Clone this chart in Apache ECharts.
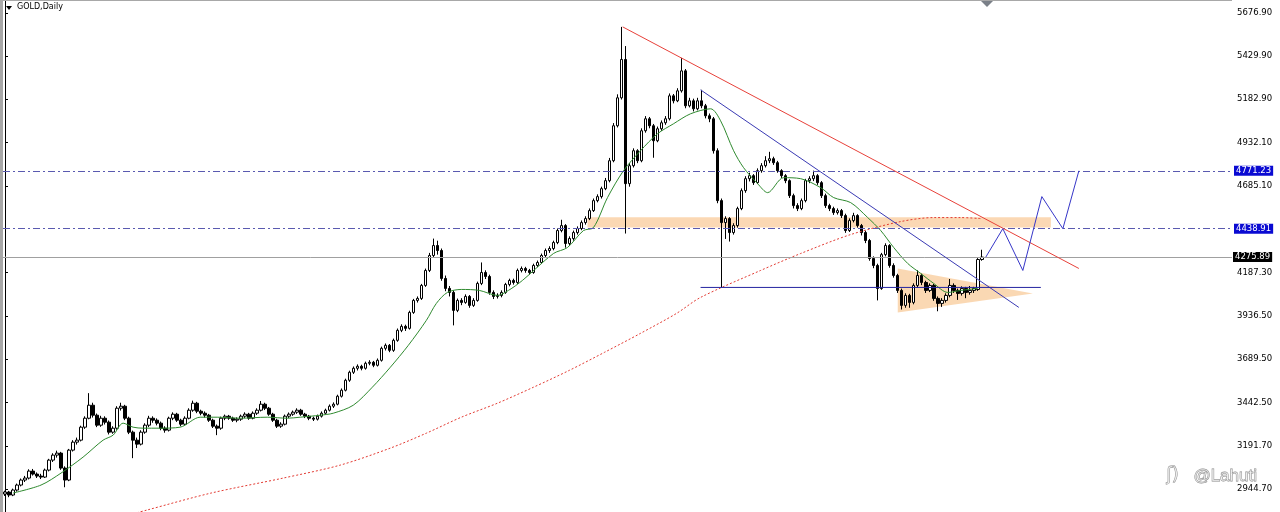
<!DOCTYPE html>
<html><head><meta charset="utf-8">
<script src="https://cdn.jsdelivr.net/npm/echarts@6/dist/echarts.min.js"></script>
<style>html,body{margin:0;padding:0;background:#fff;overflow:hidden}#c{width:1280px;height:512px}</style>
</head><body><div id="c"></div>
<script>
// ---- DATA (GOLD, Daily) ----
// candles: [open, close, low, high]
const candles = [
[2916.0,2927.4,2905.0,2935.0],[2927.4,2910.2,2898.0,2934.0],[2910.2,2938.9,2904.0,2947.0],[2938.9,2967.5,2930.0,2976.0],
[2967.5,2996.2,2960.0,3005.0],[2996.2,3007.6,2985.0,3020.0],[3007.6,3047.7,3000.0,3058.0],[3047.7,3030.5,3022.0,3060.0],
[3030.5,3019.1,3008.0,3040.0],[3019.1,3013.3,3002.0,3032.0],[3013.3,3053.4,3008.0,3062.0],[3053.4,3110.7,3046.0,3118.0],
[3110.7,3139.4,3100.0,3150.0],[3139.4,3150.8,3125.0,3165.0],[3150.8,3064.9,3055.0,3158.0],[3064.9,2996.2,2955.0,3075.0],
[2996.2,3168.0,2990.0,3175.0],[3168.0,3213.8,3160.0,3225.0],[3213.8,3225.3,3200.0,3240.0],[3225.3,3299.7,3218.0,3308.0],
[3299.7,3351.2,3290.0,3362.0],[3351.2,3425.8,3345.0,3495.0],[3425.8,3368.5,3355.0,3440.0],[3368.5,3311.2,3300.0,3378.0],
[3311.2,3351.2,3302.0,3365.0],[3351.2,3328.4,3315.0,3362.0],[3328.4,3271.1,3258.0,3338.0],[3271.1,3293.9,3262.0,3305.0],
[3293.9,3408.6,3285.0,3420.0],[3408.6,3420.0,3395.0,3440.0],[3420.0,3351.2,3340.0,3428.0],[3351.2,3271.1,3260.0,3360.0],
[3271.1,3225.3,3122.0,3280.0],[3225.3,3202.4,3180.0,3240.0],[3202.4,3271.1,3195.0,3282.0],[3271.1,3311.2,3262.0,3322.0],
[3311.2,3351.2,3300.0,3365.0],[3351.2,3339.8,3325.0,3362.0],[3339.8,3322.7,3310.0,3350.0],[3322.7,3293.9,3282.0,3332.0],
[3293.9,3282.6,3268.0,3305.0],[3282.6,3351.2,3275.0,3360.0],[3351.2,3374.2,3340.0,3385.0],[3374.2,3339.8,3330.0,3382.0],
[3339.8,3316.9,3305.0,3348.0],[3316.9,3351.2,3310.0,3362.0],[3351.2,3397.1,3345.0,3408.0],[3397.1,3437.2,3388.0,3452.0],
[3437.2,3391.4,3380.0,3445.0],[3391.4,3379.9,3368.0,3400.0],[3379.9,3368.5,3355.0,3390.0],[3368.5,3339.8,3330.0,3376.0],
[3339.8,3305.5,3295.0,3348.0],[3305.5,3293.9,3254.0,3315.0],[3293.9,3351.2,3285.0,3360.0],[3351.2,3362.7,3340.0,3372.0],
[3362.7,3351.2,3342.0,3370.0],[3351.2,3339.8,3330.0,3360.0],[3339.8,3345.6,3328.0,3356.0],[3345.6,3362.7,3336.0,3372.0],
[3362.7,3374.2,3352.0,3385.0],[3374.2,3351.2,3342.0,3382.0],[3351.2,3379.9,3345.0,3390.0],[3379.9,3397.1,3370.0,3408.0],
[3397.1,3431.5,3390.0,3450.0],[3431.5,3408.6,3398.0,3440.0],[3408.6,3374.2,3365.0,3416.0],[3374.2,3339.8,3330.0,3382.0],
[3339.8,3305.5,3295.0,3348.0],[3305.5,3316.9,3296.0,3328.0],[3316.9,3362.7,3310.0,3372.0],[3362.7,3374.2,3352.0,3384.0],
[3374.2,3385.7,3365.0,3395.0],[3385.7,3397.1,3376.0,3408.0],[3397.1,3374.2,3365.0,3405.0],[3374.2,3362.7,3352.0,3382.0],
[3362.7,3351.2,3340.0,3370.0],[3351.2,3345.6,3335.0,3360.0],[3345.6,3362.7,3338.0,3372.0],[3362.7,3379.9,3355.0,3390.0],
[3379.9,3397.1,3372.0,3406.0],[3397.1,3420.0,3390.0,3430.0],[3420.0,3431.5,3410.0,3442.0],[3431.5,3477.3,3425.0,3486.0],
[3477.3,3511.7,3470.0,3522.0],[3511.7,3569.0,3505.0,3578.0],[3569.0,3614.8,3560.0,3624.0],[3614.8,3637.7,3605.0,3648.0],
[3637.7,3649.2,3625.0,3660.0],[3649.2,3637.7,3626.0,3658.0],[3637.7,3666.3,3630.0,3676.0],[3666.3,3672.1,3655.0,3684.0],
[3672.1,3654.9,3644.0,3680.0],[3654.9,3683.5,3648.0,3694.0],[3683.5,3752.3,3676.0,3762.0],[3752.3,3769.4,3740.0,3780.0],
[3769.4,3740.8,3730.0,3777.0],[3740.8,3798.1,3732.0,3808.0],[3798.1,3855.4,3790.0,3866.0],[3855.4,3878.3,3845.0,3890.0],
[3878.3,3866.8,3852.0,3888.0],[3866.8,3958.3,3860.0,3968.0],[3958.3,4027.2,3950.0,4036.0],[4027.2,4038.7,4015.0,4050.0],
[4038.7,4113.1,4030.0,4122.0],[4113.1,4199.2,4105.0,4210.0],[4199.2,4285.0,4190.0,4300.0],[4285.0,4342.2,4275.0,4382.0],
[4342.2,4313.6,4290.0,4370.0],[4313.6,4153.2,4140.0,4325.0],[4153.2,4096.0,4080.0,4170.0],[4096.0,4073.0,4050.0,4110.0],
[4073.0,3970.0,3884.0,4085.0],[3970.0,4027.2,3960.0,4038.0],[4027.2,4015.7,4000.0,4040.0],[4015.7,4050.1,4008.0,4062.0],
[4050.1,3998.6,3985.0,4058.0],[3998.6,4027.2,3990.0,4040.0],[4027.2,4124.6,4020.0,4135.0],[4124.6,4187.6,4115.0,4245.0],
[4187.6,4164.7,4150.0,4200.0],[4164.7,4073.0,4060.0,4175.0],[4073.0,4050.1,4035.0,4085.0],[4050.1,4055.8,4038.0,4068.0],
[4055.8,4073.0,4045.0,4085.0],[4073.0,4118.8,4065.0,4128.0],[4118.8,4141.8,4108.0,4152.0],[4141.8,4130.3,4118.0,4152.0],
[4130.3,4199.2,4122.0,4210.0],[4199.2,4210.5,4188.0,4222.0],[4210.5,4199.2,4186.0,4220.0],[4199.2,4187.6,4175.0,4208.0],
[4187.6,4227.7,4180.0,4238.0],[4227.7,4244.9,4218.0,4256.0],[4244.9,4285.0,4236.0,4296.0],[4285.0,4313.6,4275.0,4325.0],
[4313.6,4325.1,4300.0,4338.0],[4325.1,4359.4,4315.0,4370.0],[4359.4,4428.2,4350.0,4440.0],[4428.2,4456.8,4418.0,4490.0],
[4456.8,4353.7,4330.0,4465.0],[4353.7,4382.3,4340.0,4395.0],[4382.3,4416.7,4370.0,4428.0],[4416.7,4439.6,4405.0,4452.0],
[4439.6,4474.0,4430.0,4486.0],[4474.0,4496.9,4462.0,4510.0],[4496.9,4542.7,4488.0,4555.0],[4542.7,4600.0,4535.0,4612.0],
[4600.0,4622.9,4590.0,4636.0],[4622.9,4668.7,4612.0,4680.0],[4668.7,4714.6,4660.0,4730.0],[4714.6,4829.1,4705.0,4845.0],
[4829.1,5029.6,4820.0,5045.0],[5029.6,5190.0,5020.0,5210.0],[5190.0,5410.0,5180.0,5597.0],[5410.0,4697.4,4411.0,5487.0],
[4697.4,4800.5,4680.0,4815.0],[4800.5,4886.4,4790.0,4900.0],[4886.4,4829.1,4815.0,4895.0],[4829.1,5001.0,4820.0,5015.0],
[5001.0,5069.7,4990.0,5085.0],[5069.7,5029.6,5015.0,5080.0],[5029.6,4943.7,4846.0,5040.0],[4943.7,5012.4,4935.0,5025.0],
[5012.4,5046.8,5000.0,5060.0],[5046.8,5069.7,5035.0,5085.0],[5069.7,5201.4,5060.0,5215.0],[5201.4,5172.8,5158.0,5212.0],
[5172.8,5230.1,5165.0,5245.0],[5230.1,5344.6,5220.0,5419.0],[5344.6,5144.2,5130.0,5355.0],[5144.2,5172.8,5135.0,5190.0],
[5172.8,5127.0,5112.0,5185.0],[5127.0,5172.8,5118.0,5190.0],[5172.8,5144.2,5130.0,5236.0],[5144.2,5086.9,5072.0,5155.0],
[5086.9,5069.7,5050.0,5100.0],[5069.7,4886.4,4870.0,5080.0],[4886.4,4600.0,4585.0,4900.0],[4600.0,4474.0,4101.7,4612.0],
[4474.0,4496.9,4380.0,4510.0],[4496.9,4416.7,4365.0,4505.0],[4416.7,4456.8,4405.0,4470.0],[4456.8,4554.2,4445.0,4565.0],
[4554.2,4657.3,4545.0,4670.0],[4657.3,4726.0,4645.0,4740.0],[4726.0,4743.2,4710.0,4760.0],[4743.2,4703.1,4690.0,4752.0],
[4703.1,4771.8,4695.0,4785.0],[4771.8,4800.5,4760.0,4815.0],[4800.5,4829.1,4790.0,4855.0],[4829.1,4840.6,4815.0,4880.0],
[4840.6,4817.7,4805.0,4852.0],[4817.7,4771.8,4760.0,4828.0],[4771.8,4743.2,4730.0,4780.0],[4743.2,4714.6,4700.0,4752.0],
[4714.6,4628.6,4615.0,4722.0],[4628.6,4571.4,4555.0,4640.0],[4571.4,4554.2,4540.0,4585.0],[4554.2,4600.0,4545.0,4612.0],
[4600.0,4714.6,4590.0,4725.0],[4714.6,4726.0,4700.0,4740.0],[4726.0,4743.2,4712.0,4772.0],[4743.2,4703.1,4690.0,4752.0],
[4703.1,4628.6,4615.0,4712.0],[4628.6,4571.4,4558.0,4640.0],[4571.4,4554.2,4540.0,4582.0],[4554.2,4531.3,4518.0,4565.0],
[4531.3,4542.7,4520.0,4555.0],[4542.7,4514.1,4500.0,4552.0],[4514.1,4428.2,4415.0,4525.0],[4428.2,4485.4,4420.0,4498.0],
[4485.4,4514.1,4475.0,4530.0],[4514.1,4456.8,4445.0,4522.0],[4456.8,4416.7,4400.0,4466.0],[4416.7,4371.0,4356.0,4428.0],
[4371.0,4267.8,4255.0,4380.0],[4267.8,4227.7,4212.0,4280.0],[4227.7,4096.0,4027.2,4238.0],[4096.0,4290.0,4088.0,4300.0],
[4290.0,4342.2,4280.0,4355.0],[4342.2,4227.7,4215.0,4350.0],[4227.7,4170.4,4158.0,4240.0],[4170.4,4084.5,4070.0,4180.0],
[4084.5,3998.6,3975.0,4095.0],[3998.6,4055.8,3985.0,4068.0],[4055.8,4015.7,3985.0,4065.0],[4015.7,4113.1,4005.0,4125.0],
[4113.1,4170.4,4100.0,4200.0],[4170.4,4130.3,4115.0,4180.0],[4130.3,4084.5,4070.0,4140.0],[4084.5,4113.1,4075.0,4125.0],
[4113.1,4038.7,4025.0,4122.0],[4038.7,4010.0,3965.0,4050.0],[4010.0,4027.2,3990.0,4040.0],[4027.2,4055.8,4015.0,4068.0],
[4055.8,4113.1,4045.0,4150.0],[4113.1,4084.5,4070.0,4125.0],[4084.5,4067.3,4030.0,4095.0],[4067.3,4096.0,4055.0,4108.0],
[4096.0,4073.0,4040.0,4105.0],[4073.0,4084.5,4060.0,4110.0],[4084.5,4096.0,4070.0,4105.0],[4090.0,4262.0,4082.0,4270.0],
[4262.0,4275.89,4255.0,4318.0]
];
// green moving average: [bar index, price]
const maFast = [
[2,2921.7],[9,2967.5],[14,3036.3],[19.5,3127.9],[24.5,3225.3],[27,3254.0],[29.5,3322.7],[32,3299.7],[34.5,3294.0],
[38.75,3294.0],[43.75,3299.7],[48.75,3357.0],[53,3357.0],[58.75,3351.2],[65.5,3357.0],[70.5,3351.2],[73.75,3357.0],
[78.75,3368.5],[82,3379.9],[87,3425.8],[91.75,3528.9],[96.25,3643.5],[100.75,3769.4],[105.25,3912.6],[107.75,4010.0],
[110.5,4073.0],[114,4090.2],[118.5,4084.5],[123,4055.8],[125.75,4084.5],[129.25,4141.8],
[137,4296.4],[140.5,4330.8],[144.5,4428.2],[147,4445.3],[150.5,4617.2],[154.5,4771.8],
[158.75,4886.4],[163,4983.8],[167,5041.1],[171.25,5098.3],[176.25,5127.0],[178.75,5058.3],[182,4886.4],[184.5,4789.0],
[188,4697.4],[190.5,4645.8],[194.5,4731.7],[198.75,4726.0],[203.75,4674.5],[207,4617.2],[211.25,4588.5],[215.5,4502.6],
[218.75,4428.2],[222,4330.8],[225.5,4239.1],[228.75,4181.9],[232,4124.6],[235.5,4073.0],[238.75,4084.5],[243,4096.0]
];
// red dotted long moving average: [bar index, price]
const maSlow = [
[30,2790.0],[35.5,2824.3],[51.5,2921.7],[69.5,3007.6],[83.75,3082.1],[96.25,3179.5],[105.25,3265.2],[114,3357.0],
[123,3437.2],[132,3528.9],[141,3626.2],[149.75,3729.3],[158.75,3838.2],[167.75,3952.7],[173.75,4044.4],[188.75,4199.2],
[198.75,4296.4],[211.25,4405.2],[223.75,4479.7],[232,4502.6],[238.75,4502.6],[243.75,4496.9]
];
const redTrend = [[154.3,5597.0],[268.25,4210.5]];
const blueTrend = [[173.75,5235.8],[253.25,3987.1]];
const blueFlat = [[173.75,4101.7],[258.75,4101.7]];
const projection = [[245,4276.0],[249.25,4438.9],[254.25,4199.0],[259,4623.0],[264.25,4438.9],[268.25,4771.2]];
const zoneRect = [[145.5,4505.0],[261.25,4445.0]];
const triangle = [[223,4210.0],[223,3958.0],[256.75,4067.0]];
const levels = [4771.23, 4438.91];
const bidPrice = 4275.89;
const yTicks = [2944.70, 3191.70, 3442.50, 3689.50, 3936.50, 4187.30, 4685.10, 4932.10, 5182.90, 5429.90, 5676.90];
const slotCount = 307;
const categories = Array.from({length: slotCount}, (_, i) => String(i));

// ---- CHART ----
const chart = echarts.init(document.getElementById('c'), null, {renderer: 'canvas'});
const FONT = 'DejaVu Sans';
const option = {
  animation: false,
  backgroundColor: '#ffffff',
  grid: {left: 3, right: 48, top: 1, bottom: 0, containLabel: false},
  xAxis: [
    {type: 'category', data: categories, boundaryGap: true, show: false},
    {type: 'value', min: -0.5, max: slotCount - 0.5, show: false}
  ],
  yAxis: {
    type: 'value', position: 'right', min: 2812.9, max: 5745.6, scale: true,
    axisLine: {show: true, lineStyle: {color: '#000', width: 1}},
    axisTick: {show: true, length: 3, customValues: yTicks, lineStyle: {color: '#000'}},
    axisLabel: {show: true, customValues: yTicks, margin: 5, color: '#000', fontFamily: FONT, fontSize: 8.5,
      formatter: v => Number(v).toFixed(2)},
    splitLine: {show: false}
  },
  series: [
    {type: 'custom', xAxisIndex: 1, silent: true, z: 1, data: [[0, 0]],
      renderItem: (params, api) => {
        const a = api.coord(zoneRect[0]), b = api.coord(zoneRect[1]);
        return {type: 'rect', shape: {x: a[0], y: a[1], width: b[0] - a[0], height: b[1] - a[1]},
          style: {fill: '#fbd8b4'}};
      }},
    {type: 'custom', xAxisIndex: 1, silent: true, z: 1, data: [[0, 0]],
      renderItem: (params, api) => ({type: 'polygon', shape: {points: triangle.map(p => api.coord(p))},
        style: {fill: 'rgba(249,206,160,0.8)'}})},
    {type: 'candlestick', xAxisIndex: 0, data: candles, barWidth: 3, z: 3, silent: true,
      itemStyle: {color: '#ffffff', color0: '#000000', borderColor: '#000000', borderColor0: '#000000', borderWidth: 1}},
    {type: 'line', xAxisIndex: 1, data: maSlow, smooth: 0.3, symbol: 'none', z: 4, silent: true,
      lineStyle: {color: '#e23a32', width: 1, type: [2, 2]}},
    {type: 'line', xAxisIndex: 1, data: maFast, smooth: 0.3, symbol: 'none', z: 4, silent: true,
      lineStyle: {color: '#2f8a2f', width: 1}},
    {type: 'line', xAxisIndex: 1, data: redTrend, symbol: 'none', z: 5, silent: true,
      lineStyle: {color: '#e8413a', width: 1}},
    {type: 'line', xAxisIndex: 1, data: blueTrend, symbol: 'none', z: 5, silent: true,
      lineStyle: {color: '#3a3ab4', width: 1}},
    {type: 'line', xAxisIndex: 1, data: blueFlat, symbol: 'none', z: 5, silent: true,
      lineStyle: {color: '#2424a0', width: 1}},
    {type: 'line', xAxisIndex: 1, data: projection, symbol: 'none', z: 5, silent: true,
      lineStyle: {color: '#3636c8', width: 1},
      markLine: {silent: true, symbol: 'none', animation: false,
        data: [
          ...levels.map(v => ({yAxis: v, lineStyle: {color: '#5a5ab0', type: [7, 3, 2, 3], width: 1},
            label: {show: true, position: 'end', distance: 2, formatter: () => v.toFixed(2), color: '#fff',
              backgroundColor: '#0a0ad2', padding: [1, 2, 0, 2], fontFamily: FONT, fontSize: 8.5}})),
          {yAxis: bidPrice, lineStyle: {color: '#a0a0a0', type: 'solid', width: 1},
            label: {show: true, position: 'end', distance: 1, formatter: () => bidPrice.toFixed(2), color: '#fff',
              backgroundColor: '#000', padding: [1, 2, 0, 2], fontFamily: FONT, fontSize: 8.5}}
        ]}}
  ],
  graphic: [
    {type: 'rect', left: 0, top: 0, shape: {width: 3, height: 512}, style: {fill: '#a8a8a8'}, z: 100},
    {type: 'rect', left: 0, top: 0, shape: {width: 1232, height: 1}, style: {fill: '#a8a8a8'}, z: 100},
    {type: 'polygon', shape: {points: [[981, 1], [993, 1], [987, 7]]}, style: {fill: '#7a8088'}, z: 100},
    {type: 'polygon', shape: {points: [[6, 6], [12, 6], [9, 10]]}, style: {fill: '#000'}, z: 100},
    {type: 'text', left: 17, top: 3, style: {text: 'GOLD,Daily', fill: '#000', font: '8px "DejaVu Sans"'}, z: 100},
    {type: 'text', left: 1193, top: 467, style: {text: '@Lahuti', fill: 'rgba(255,255,255,0.5)', stroke: '#8a8a8a',
      lineWidth: 0.8, font: '17px "Liberation Sans"'}, z: 100},
    {type: 'text', left: 1166, top: 467, style: {text: 'ʃ)', fill: 'rgba(255,255,255,0.5)', stroke: '#8a8a8a',
      lineWidth: 0.8, font: '17px "DejaVu Sans"'}, z: 100}
  ]
};
chart.setOption(option);
</script>
</body></html>
